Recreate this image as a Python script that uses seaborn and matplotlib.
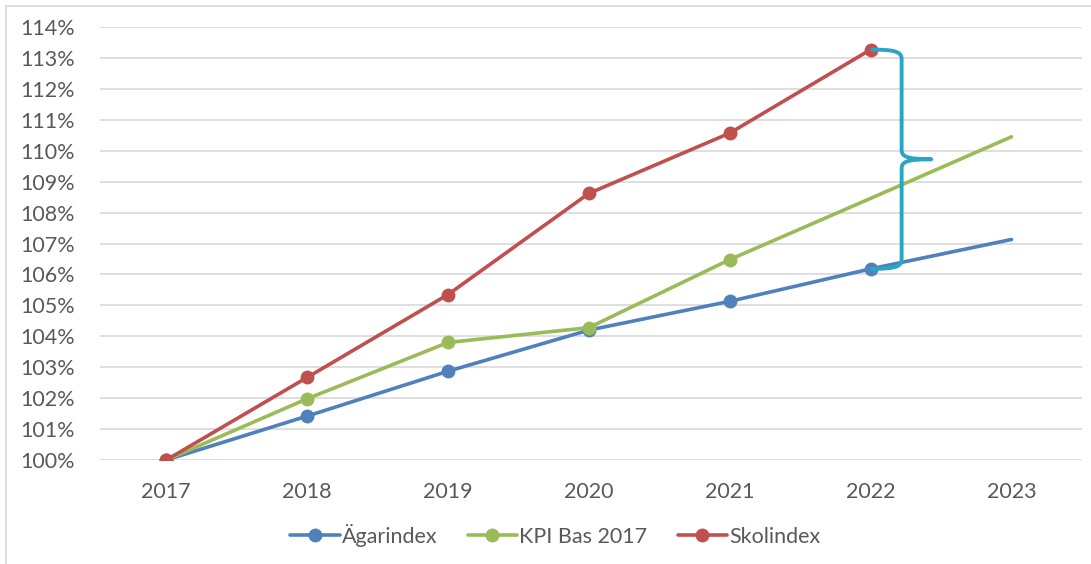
import numpy as np
import pandas as pd
import matplotlib
matplotlib.use("Agg")
import matplotlib.pyplot as plt
from matplotlib.path import Path
from matplotlib.patches import PathPatch
from matplotlib.lines import Line2D
import seaborn as sns

# data (index, 2017 = 100 %)
years = [2017, 2018, 2019, 2020, 2021, 2022, 2023]
agarindex = [100.0, 101.42, 102.87, 104.2, 105.13, 106.18, 107.13]
kpi_bas_2017 = [100.0, 101.98, 103.8, 104.28, 106.48, 108.46, 110.45]
skol_years = [2017, 2018, 2019, 2020, 2021, 2022]
skolindex = [100.0, 102.67, 105.35, 108.62, 110.57, 113.27]
yticks = list(range(100, 115))

sns.set_theme(style="white")
plt.rcParams['font.family'] = ['Lato', 'DejaVu Sans']

blue = '#4F81BD'
green = '#9BBB59'
red = '#C0504D'
brace_col = '#2AA6C4'
txt = '#595959'

fig = plt.figure(figsize=(10.91, 5.64), dpi=100)
ax = fig.add_axes([0.0917, 0.1844, 0.9, 0.7677])

# blue first, red on top (as in the source)
sns.lineplot(x=years, y=agarindex, ax=ax, color=blue, lw=2.6, marker='o',
             markersize=10, markeredgewidth=0, markevery=[0, 1, 2, 3, 4, 5])
sns.lineplot(x=years, y=kpi_bas_2017, ax=ax, color=green, lw=2.6, marker='o',
             markersize=10, markeredgewidth=0, markevery=[0, 1, 2, 3, 4])
sns.lineplot(x=skol_years, y=skolindex, ax=ax, color=red, lw=2.6, marker='o',
             markersize=10, markeredgewidth=0)

ax.set_xlim(2016.53, 2023.5)
ax.set_ylim(100, 114)
ax.set_xticks(years)
ax.set_xticklabels([str(y) for y in years])
ax.set_yticks(yticks)
ax.set_yticklabels([f"{v}%" for v in yticks])
ax.tick_params(axis='both', length=0, labelsize=15.5, labelcolor=txt)
ax.tick_params(axis='x', pad=16)
ax.tick_params(axis='y', pad=18)
ax.yaxis.grid(True, color='#D9D9D9', lw=1.2)
ax.set_axisbelow(True)
for s in ax.spines.values():
    s.set_visible(False)

# curly brace between Skolindex and Agarindex in 2022
top = skolindex[-1]
bot = agarindex[5]
mid = (top + bot) / 2
x0 = 2022.0
xv = x0 + 0.22
xt = x0 + 0.43
verts = [
    (x0, top), (x0 + 0.16, top), (xv, top - 0.05), (xv, top - 0.3),
    (xv, mid + 0.3),
    (xv, mid + 0.08), (xv + 0.04, mid), (xt, mid),
    (xv + 0.04, mid), (xv, mid - 0.08), (xv, mid - 0.3),
    (xv, bot + 0.3),
    (xv, bot + 0.05), (x0 + 0.16, bot), (x0, bot),
]
codes = [Path.MOVETO, Path.CURVE4, Path.CURVE4, Path.CURVE4,
         Path.LINETO,
         Path.CURVE4, Path.CURVE4, Path.CURVE4,
         Path.CURVE4, Path.CURVE4, Path.CURVE4,
         Path.LINETO,
         Path.CURVE4, Path.CURVE4, Path.CURVE4]
ax.add_patch(PathPatch(Path(verts, codes), fill=False, edgecolor=brace_col,
                       lw=2.8, capstyle='butt', joinstyle='round', zorder=5))

handles = [Line2D([], [], color=c, lw=2.6, marker='o', markersize=10, markeredgewidth=0)
           for c in (blue, green, red)]
fig.legend(handles, ['Ägarindex', 'KPI Bas 2017', 'Skolindex'],
           loc='center', bbox_to_anchor=(0.509, 0.051), ncol=3, frameon=False,
           fontsize=15.5, labelcolor=txt, handlelength=2.3, handletextpad=0.1,
           columnspacing=1.4)

# outer chart border (top and left only visible)
fig.add_artist(Line2D([0.0055, 1.0], [0.989, 0.989], color='#D9D9D9', lw=1.2))
fig.add_artist(Line2D([0.0055, 0.0055], [0.0, 0.989], color='#D9D9D9', lw=1.2))

fig.savefig('out.png', dpi=100)
